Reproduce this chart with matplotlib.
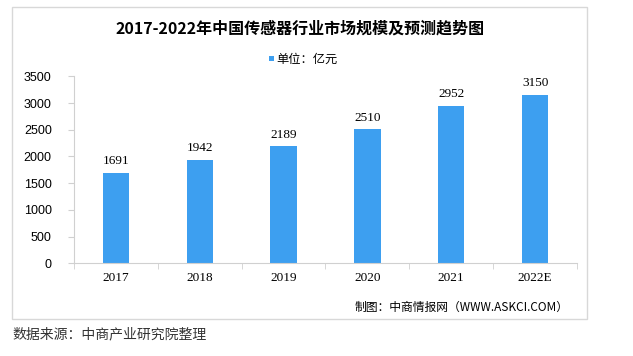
import numpy as np
import matplotlib
matplotlib.use('Agg')
import matplotlib.pyplot as plt
from matplotlib.patches import Rectangle

plt.rcParams['font.family'] = ['Noto Sans CJK SC', 'DejaVu Sans']

years = ['2017', '2018', '2019', '2020', '2021', '2022E']
values = [1691, 1942, 2189, 2510, 2952, 3150]
yticks = [0, 500, 1000, 1500, 2000, 2500, 3000, 3500]

W, H = 633, 356
BAR = '#3d9ff0'
AXC = '#d0d0d0'
NUMFONT = ['Liberation Serif', 'DejaVu Serif']

fig = plt.figure(figsize=(W / 100, H / 100), dpi=100)

def px(x0, y0, x1, y1):
	# pixel box (top-left origin) -> figure fraction
	return [x0 / W, 1 - y1 / H, (x1 - x0) / W, (y1 - y0) / H]

# outer frame
fig.patches.append(Rectangle((12 / W, 1 - 319 / H), (587 - 12) / W, (319 - 7) / H,
	transform=fig.transFigure, fill=False, edgecolor='#d8d8d8', lw=1))

ax = fig.add_axes(px(74, 76.3, 577, 263.3))
x = np.arange(len(years))
ax.bar(x, values, width=0.315, color=BAR, zorder=2)
ax.set_xlim(-0.5, len(years) - 0.5)
ax.set_ylim(0, 3500)

for sp in ['top', 'right']:
	ax.spines[sp].set_visible(False)
ax.spines['left'].set_color(AXC)
ax.spines['bottom'].set_color(AXC)

ax.set_yticks(yticks)
ax.set_yticklabels([str(t) for t in yticks], fontsize=9, family=['Liberation Sans', 'DejaVu Sans'])
ax.tick_params(axis='y', length=4, color=AXC, pad=12)

ax.set_xticks(x)
ax.set_xticklabels(years, fontsize=9.5, family=NUMFONT)
ax.tick_params(axis='x', length=0, pad=6)
ax.set_xticks(np.arange(len(years) + 1) - 0.5, minor=True)
ax.tick_params(axis='x', which='minor', length=4, color=AXC)

for xi, v in zip(x, values):
	ax.annotate(str(v), (xi, v), xytext=(0, 4), textcoords='offset points',
		ha='center', va='bottom', fontsize=9.5, family=NUMFONT)

fig.text(300 / W, 1 - 29 / H, '2017-2022年中国传感器行业市场规模及预测趋势图',
	ha='center', va='center', fontsize=11.5, fontweight='bold')

# legend: small square + unit text
fig.patches.append(Rectangle((268.5 / W, 1 - 61 / H), 5 / W, 5 / H,
	transform=fig.transFigure, facecolor=BAR, edgecolor='none'))
fig.text(276 / W, 1 - 59 / H, '单位：亿元', ha='left', va='center', fontsize=8.8)

fig.text(569 / W, 1 - 307 / H, '制图：中商情报网（WWW.ASKCI.COM）',
	ha='right', va='center', fontsize=8.5)

fig.text(12 / W, 1 - 334 / H, '数据来源：中商产业研究院整理',
	ha='left', va='center', fontsize=10, color='#333333')

fig.savefig('out.png', dpi=100)
